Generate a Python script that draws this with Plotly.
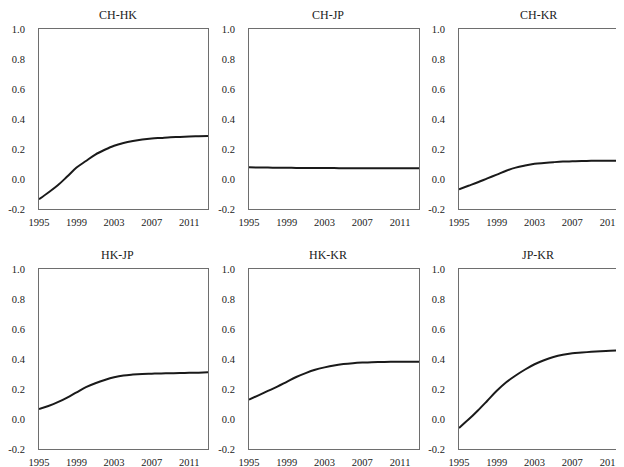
import plotly.graph_objects as go

# ---------------- data ----------------
years = list(range(1995, 2014))
pair_names = ["CH-HK", "CH-JP", "CH-KR", "HK-JP", "HK-KR", "JP-KR"]

ch_hk = [-0.135, -0.09, -0.042, 0.016, 0.076, 0.12, 0.163, 0.195, 0.222, 0.240,
         0.253, 0.263, 0.270, 0.274, 0.278, 0.280, 0.283, 0.285, 0.287]
ch_jp = [0.078, 0.077, 0.076, 0.075, 0.075, 0.074, 0.074, 0.073, 0.073, 0.073,
         0.072, 0.072, 0.072, 0.072, 0.071, 0.071, 0.071, 0.071, 0.071]
ch_kr = [-0.068, -0.045, -0.022, 0.004, 0.029, 0.055, 0.076, 0.09, 0.101, 0.107,
         0.112, 0.116, 0.118, 0.12, 0.121, 0.121, 0.122, 0.122, 0.123]
hk_jp = [0.067, 0.087, 0.112, 0.143, 0.178, 0.212, 0.238, 0.26, 0.278, 0.29,
         0.296, 0.300, 0.302, 0.304, 0.305, 0.306, 0.308, 0.309, 0.311]
hk_kr = [0.129, 0.158, 0.187, 0.216, 0.248, 0.28, 0.306, 0.328, 0.344, 0.357,
         0.366, 0.372, 0.376, 0.379, 0.38, 0.381, 0.381, 0.382, 0.382]
jp_kr = [-0.06, -0.004, 0.057, 0.122, 0.188, 0.245, 0.29, 0.33, 0.365, 0.392,
         0.413, 0.428, 0.438, 0.443, 0.448, 0.452, 0.455, 0.457, 0.458]

series = [ch_hk, ch_jp, ch_kr, hk_jp, hk_kr, jp_kr]

y_tickvals = [-0.2, 0.0, 0.2, 0.4, 0.6, 0.8, 1.0]
y_ticktext = ["-0.2", "0.0", "0.2", "0.4", "0.6", "0.8", "1.0"]
x_tickvals = [1995, 1999, 2003, 2007, 2011]
x_ticktext = ["1995", "1999", "2003", "2007", "2011"]

# ---------------- layout geometry ----------------
# page offset: the browser body has an 8px margin
OFF = 8
PAGE_W, PAGE_H = 624, 467
W, H = PAGE_W - OFF, PAGE_H - OFF
col_px = [(39, 208), (249, 419), (459, 629)]   # page pixels
row_px = [(29, 209), (269, 449)]
x0, x1 = 1995, 2013

FONT = "Liberation Serif"
FRAME = "#6e6e6e"
TICK_SIZE = 10.5

fig = go.Figure()
layout = dict(
    template="none",
    width=W, height=H,
    margin=dict(l=0, r=0, t=0, b=0, autoexpand=False),
    paper_bgcolor="white", plot_bgcolor="white",
    showlegend=False,
    font=dict(family=FONT, size=11, color="#222"),
    annotations=[],
)

for i, (name, vals) in enumerate(zip(pair_names, series)):
    r, c = divmod(i, 3)
    k = i + 1
    xa = "xaxis" if k == 1 else f"xaxis{k}"
    ya = "yaxis" if k == 1 else f"yaxis{k}"
    xref = "x" if k == 1 else f"x{k}"
    yref = "y" if k == 1 else f"y{k}"

    L, R = col_px[c][0] - OFF, col_px[c][1] - OFF
    T, B = row_px[r][0] - OFF, row_px[r][1] - OFF
    rend = x1
    cut = R > W
    if cut:
        rend = x0 + (x1 - x0) * (W - L) / (R - L)
        R = W
    dom_x = [L / W, R / W]
    dom_y = [1 - B / H, 1 - T / H]

    fig.add_trace(go.Scatter(
        x=years, y=vals, mode="lines",
        line=dict(color="#1a1a1a", width=2, shape="spline", smoothing=1.0),
        xaxis=xref, yaxis=yref, hoverinfo="skip",
    ))

    layout[xa] = dict(
        domain=dom_x, range=[x0, rend], anchor=yref, automargin=False,
        tickvals=x_tickvals, ticktext=x_ticktext,
        showgrid=False, zeroline=False,
        showline=True, linecolor=FRAME, linewidth=1, mirror=True,
        ticks="outside", ticklen=3, tickcolor="rgba(0,0,0,0)",
        ticklabeloverflow="allow",
        tickfont=dict(family=FONT, size=TICK_SIZE, color="#222"),
    )
    layout[ya] = dict(
        domain=dom_y, range=[-0.2, 1.0], anchor=xref, automargin=False,
        tickvals=y_tickvals, ticktext=y_ticktext,
        showgrid=False, zeroline=False,
        showline=True, linecolor=FRAME, linewidth=1,
        mirror=(not cut),
        ticks="outside", ticklen=11, tickcolor="rgba(0,0,0,0)",
        tickfont=dict(family=FONT, size=TICK_SIZE, color="#222"),
    )
    cx = (col_px[c][0] + col_px[c][1]) / 2 - 6 - OFF
    ty = T - 14
    layout["annotations"].append(dict(
        text=name, xref="paper", yref="paper",
        x=cx / W, y=1 - ty / H, xanchor="center", yanchor="middle",
        showarrow=False, font=dict(family=FONT, size=12, color="#222"),
    ))

fig.update_layout(**layout)
fig.write_html("out.html")
